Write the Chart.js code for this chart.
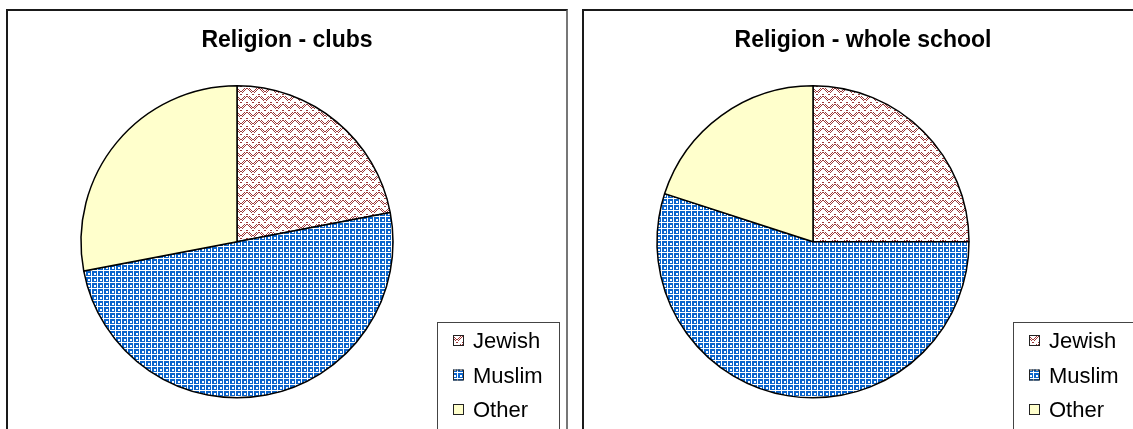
<!DOCTYPE html>
<html>
<head>
<meta charset="utf-8">
<script src="https://cdn.jsdelivr.net/npm/chart.js@4"></script>
<style>
  body { margin: 0; background: #fff; overflow: hidden; width: 1133px; height: 429px; position: relative; }
  .box { position: absolute; top: 9px; height: 440px; border: 2px solid #1a1a1a; box-sizing: border-box; }
  canvas { position: absolute; top: 0; }
</style>
</head>
<body>
<div class="box" style="left:6px;width:562px;border-right-color:#777"></div>
<div class="box" style="left:582px;width:580px"></div>
<canvas id="clubs" width="560" height="429" style="left:7px"></canvas>
<canvas id="school" width="560" height="429" style="left:583px"></canvas>
<script>
const labels = ["Jewish", "Muslim", "Other"];
const clubsValues = [22, 50, 28];
const schoolValues = [25, 55, 20];
const titles = ["Religion - clubs", "Religion - whole school"];

// build fill patterns like the old spreadsheet fills
function makePattern(w, h, bg, fg, rows) {
  const c = document.createElement("canvas");
  c.width = w; c.height = h;
  const g = c.getContext("2d");
  g.fillStyle = bg; g.fillRect(0, 0, w, h);
  g.fillStyle = fg;
  rows.forEach((r, y) => {
    for (let x = 0; x < r.length; x++) if (r[x] == "x") g.fillRect(x, y, 1, 1);
  });
  return g.createPattern(c, "repeat");
}

const jewishFill = makePattern(12, 8, "#ffffff", "#9c3838", [
  "x.x......x.x",
  ".x.x....x.x.",
  "..x.x..x.x..",
  "...x.xx.x...",
  "....x..x....",
  "............",
  "x....xx....x",
  "............",
]);
const muslimFill = makePattern(6, 6, "#ffffff", "#0a64cc", [
  "......",
  ".xxxxx",
  ".xxxxx",
  ".xx..x",
  ".xx..x",
  ".xxxxx",
]);
const fills = [jewishFill, muslimFill, "#ffffcc"];

// pie sits left of centre, title stays centred on the whole box
const pieShift = {
  id: "pieShift",
  afterLayout(chart) {
    const a = chart.chartArea;
    a.left = 74; a.right = 386; a.width = 312;
  }
};

// legend drawn as a boxed key in the lower right, like the original
const boxLegend = {
  id: "boxLegend",
  afterDraw(chart) {
    const ctx = chart.ctx;
    const lx = 430, ly = 322;
    ctx.save();
    ctx.strokeStyle = "#444";
    ctx.lineWidth = 1;
    ctx.strokeRect(lx + 0.5, ly + 0.5, 122, 130);
    ctx.font = "22px 'Liberation Sans', Arial, sans-serif";
    ctx.textBaseline = "middle";
    chart.data.labels.forEach((lab, i) => {
      const y = ly + 19 + i * 34.5;
      ctx.fillStyle = chart.data.datasets[0].backgroundColor[i];
      ctx.fillRect(lx + 16, y - 6, 11, 11);
      ctx.strokeStyle = "#222";
      ctx.strokeRect(lx + 16.5, y - 5.5, 10, 10);
      ctx.fillStyle = "#000";
      ctx.fillText(lab, lx + 36, y + 1);
    });
    ctx.restore();
  }
};

function pieChart(id, values, title) {
  new Chart(document.getElementById(id), {
    type: "pie",
    data: {
      labels: labels,
      datasets: [{ data: values, backgroundColor: fills, borderColor: "#000", borderWidth: 1.5, radius: 156 }]
    },
    options: {
      responsive: false,
      animation: false,
      devicePixelRatio: 1,
      layout: { padding: { left: 0, right: 0, top: 0, bottom: 10 } },
      plugins: {
        legend: { display: false },
        tooltip: { enabled: false },
        title: {
          display: true, text: title, color: "#000",
          font: { family: "'Liberation Sans', Arial, sans-serif", size: 23, weight: "bold" },
          padding: { top: 27, bottom: 10 }
        }
      }
    },
    plugins: [pieShift, boxLegend]
  });
}

pieChart("clubs", clubsValues, titles[0]);
pieChart("school", schoolValues, titles[1]);
</script>
</body>
</html>
